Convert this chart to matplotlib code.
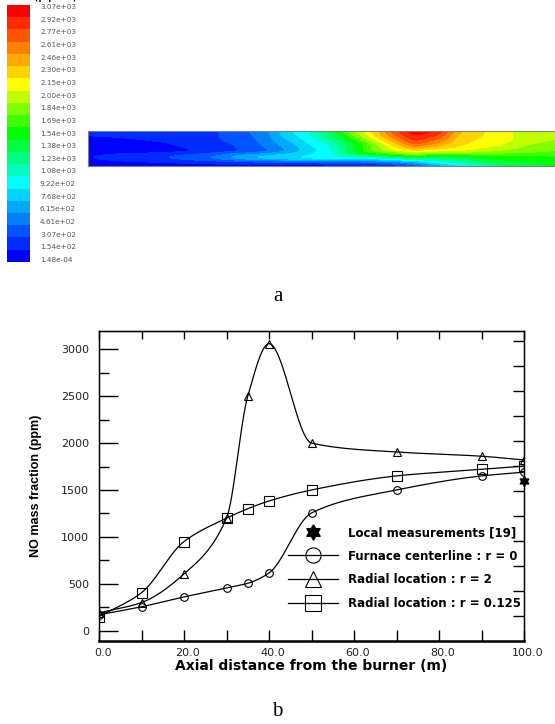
import colorsys
import numpy as np
import matplotlib
matplotlib.use("Agg")
import matplotlib.pyplot as plt
from matplotlib.colors import ListedColormap
from matplotlib.lines import Line2D
from matplotlib.transforms import ScaledTranslation

W, H = 555, 724

# ---------------- (a) NO contour map ----------------
# colour scale, as printed (top to bottom)
level_labels = ["3.07e+03", "2.92e+03", "2.77e+03", "2.61e+03", "2.46e+03",
                "2.30e+03", "2.15e+03", "2.00e+03", "1.84e+03", "1.69e+03",
                "1.54e+03", "1.38e+03", "1.23e+03", "1.08e+03", "9.22e+02",
                "7.68e+02", "6.15e+02", "4.61e+02", "3.07e+02", "1.54e+02",
                "1.48e-04"]

# NO field (ppm) read from the map: columns along the furnace (% of length),
# rows across it (0 = bottom edge, 1 = top edge)
field_x = [0, 8, 16, 22, 27, 32, 37, 42, 47, 52, 57, 62, 66, 70, 74, 80, 88, 94, 100]
field_r = [0.0, 0.1, 0.25, 0.45, 0.6, 0.8, 1.0]
no_r000 = [0, 0, 0, 0, 0, 0, 0, 0, 0, 0, 46, 77, 154, 307, 537, 844, 1228, 1382, 1458]
no_r010 = [15, 46, 77, 107, 138, 169, 200, 230, 261, 292, 322, 368, 461, 614, 844, 1075, 1382, 1458, 1535]
no_r025 = [61, 154, 215, 307, 399, 583, 706, 798, 860, 921, 998, 1075, 1228, 1382, 1305, 1382, 1535, 1535, 1612]
no_r045 = [0, 8, 31, 77, 154, 230, 338, 537, 768, 998, 1458, 1842, 2072, 2226, 2149, 2072, 1919, 1842, 1765]
no_r060 = [15, 23, 54, 123, 184, 246, 384, 583, 814, 1044, 1458, 1919, 2303, 2610, 2456, 2226, 2072, 1919, 1842]
no_r080 = [46, 77, 123, 169, 215, 292, 430, 691, 921, 1228, 1689, 2226, 2610, 2917, 2763, 2303, 2149, 1996, 1919]
no_r100 = [184, 184, 200, 215, 223, 338, 461, 768, 998, 1382, 1919, 2379, 2840, 3070, 2993, 2379, 2149, 1996, 1919]

# ---------------- (b) NO along the furnace ----------------
x_axial = [0, 10, 20, 30, 35, 40, 50, 70, 90, 100]
no_centre = [170, 255, 360, 455, 505, 615, 1255, 1500, 1650, 1690]
no_r2 = [190, 300, 605, 1200, 2500, 3060, 2000, 1905, 1860, 1820]
no_r0125 = [150, 405, 950, 1200, 1300, 1383, 1500, 1650, 1720, 1755]
meas_x = [100]
meas_no = [1595]
legend_labels = ["Local measurements [19]", "Furnace centerline : r = 0",
                 "Radial location : r = 2", "Radial location : r = 0.125"]


def pchip(x, y, xs):
    x = np.asarray(x, float)
    y = np.asarray(y, float)
    h = np.diff(x)
    d = np.diff(y) / h
    m = np.zeros_like(y)
    m[0], m[-1] = d[0], d[-1]
    for k in range(1, len(x) - 1):
        if d[k - 1] * d[k] > 0:
            w1, w2 = 2 * h[k] + h[k - 1], h[k] + 2 * h[k - 1]
            m[k] = (w1 + w2) / (w1 / d[k - 1] + w2 / d[k])
    i = np.clip(np.searchsorted(x, xs) - 1, 0, len(x) - 2)
    t = (xs - x[i]) / h[i]
    h00 = 2 * t**3 - 3 * t**2 + 1
    h10 = t**3 - 2 * t**2 + t
    h01 = -2 * t**3 + 3 * t**2
    h11 = t**3 - t**2
    return h00 * y[i] + h10 * h[i] * m[i] + h01 * y[i + 1] + h11 * h[i] * m[i + 1]


def px_box(left, top, right, bottom):
    return [left / W, 1 - bottom / H, (right - left) / W, (bottom - top) / H]


fig = plt.figure(figsize=(W / 100, H / 100), dpi=100)

# fluent-like rainbow: blue -> cyan -> green -> yellow -> red
n_lev = len(level_labels)
hue = np.interp(np.arange(n_lev), [0, 6, 10, 14, 20], [240, 180, 120, 60, 0])
box_colors = [colorsys.hsv_to_rgb(hh / 360, 1, 1) for hh in hue]

values = np.array([float(s) for s in level_labels][::-1])
bounds = np.concatenate([[-1000], (values[1:] + values[:-1]) / 2, [values[-1] + 500]])

ax_cb = fig.add_axes(px_box(7, 5, 30, 262))
ax_cb.imshow(np.arange(n_lev)[::-1, None], cmap=ListedColormap(box_colors),
             aspect="auto", interpolation="nearest", vmin=0, vmax=n_lev - 1)
ax_cb.axis("off")
for lab, ypx in zip(level_labels, np.linspace(7, 260, n_lev)):
    fig.text(40 / W, 1 - ypx / H, lab, fontsize=5.2, color="#555555",
             va="center", ha="left", family="DejaVu Sans")

# smooth the read-off grid before contouring (monotone cubic both ways)
field = np.array([no_r000, no_r010, no_r025, no_r045, no_r060, no_r080, no_r100])
fine_x = np.linspace(0, 100, 400)
fine_r = np.linspace(0, 1, 80)
rows = np.array([pchip(field_x, row, fine_x) for row in field])
smooth = np.array([pchip(field_r, rows[:, j], fine_r) for j in range(len(fine_x))]).T

ax_a = fig.add_axes(px_box(88, 131, 556, 166))
ax_a.contourf(fine_x, fine_r, smooth, levels=bounds, colors=box_colors)
ax_a.set_xlim(0, 100)
ax_a.set_ylim(0, 1)
ax_a.set_xticks([])
ax_a.set_yticks([])
for s in ax_a.spines.values():
    s.set_color("#808080")
    s.set_linewidth(0.8)
ax_a.spines["right"].set_visible(False)

fig.text(33 / W, 1 + 0.5 / H, "(ppm)", fontsize=11, va="baseline", ha="left")
fig.text(278 / W, 1 - 297 / H, "a", fontsize=15, family="Liberation Serif",
         ha="center", va="center")
fig.text(277 / W, 1 - 711 / H, "b", fontsize=15, family="Liberation Serif",
         ha="center", va="center")

# ---------------- plot (b) ----------------
ax = fig.add_axes(px_box(99, 331, 524, 641))
xs = np.linspace(0, 100, 600)
mk = dict(mfc="none", mec="black", mew=0.8, ls="none", color="black")
ax.plot(xs, pchip(x_axial, no_centre, xs), color="black", lw=0.9)
ax.plot(xs, pchip(x_axial, no_r2, xs), color="black", lw=0.9)
ax.plot(xs, pchip(x_axial, no_r0125, xs), color="black", lw=0.9)
ax.plot(x_axial, no_centre, marker="o", ms=5.5, **mk)
ax.plot(x_axial, no_r2, marker="^", ms=6, **mk)
ax.plot(x_axial, no_r0125, marker="s", ms=6.5, **mk)

ang = np.deg2rad(90 + 30 * np.arange(12))
rad = np.where(np.arange(12) % 2 == 0, 1.0, 0.577)
star = list(zip(rad * np.cos(ang), rad * np.sin(ang)))
star.append(star[0])
ax.plot(meas_x, meas_no, ls="none", marker=star, ms=7, color="black",
        clip_on=False, zorder=5)

ax.set_xlim(0, 100)
ax.set_ylim(-110, 3195)
ax.set_xticks(np.arange(0, 101, 20))
ax.set_xticklabels([f"{v:.1f}" for v in np.arange(0, 101, 20)])
ax.set_xticks(np.arange(0, 101, 10), minor=True)
ax.set_yticks(np.arange(0, 3001, 500))
ax.set_yticks(np.arange(250, 3001, 500), minor=True)
ax.tick_params(axis="y", which="major", direction="in", length=14, width=1,
               labelsize=8, pad=7, labelcolor="#222222")
ax.tick_params(axis="y", which="minor", direction="in", length=7, width=1)
ax.tick_params(axis="x", which="both", direction="in", length=8, width=1,
               labelsize=8, pad=5, labelcolor="#222222")
for lab in ax.get_xticklabels():
    lab.set_transform(lab.get_transform() + ScaledTranslation(4 / 100, 0, fig.dpi_scale_trans))
for s in ax.spines.values():
    s.set_linewidth(1.0)
ax.spines["bottom"].set_linewidth(1.8)

top = ax.secondary_xaxis("top")
top.set_xticks(np.arange(0, 101, 10))
top.tick_params(direction="in", length=6, width=1, labeltop=False)

right = ax.twinx()
right.set_ylim(0, 12.4)
right.set_yticks(np.arange(1, 13))
right.tick_params(direction="in", length=8, width=1, labelright=False)

ax.set_xlabel("Axial distance from the burner (m)", fontsize=10,
              fontweight="bold", family="DejaVu Sans", va="top")
ax.xaxis.set_label_coords(0.5, (641 - 659) / 310)
ax.set_ylabel("NO mass fraction (ppm)", fontsize=9, fontweight="bold",
              family="Liberation Sans")
ax.yaxis.set_label_coords((42 - 99) / 425, 0.5)

handles = [
    Line2D([], [], ls="none", marker=star, ms=11, color="black"),
    Line2D([], [], color="black", lw=0.9, marker="o", ms=11, mfc="none", mew=0.8),
    Line2D([], [], color="black", lw=0.9, marker="^", ms=11, mfc="none", mew=0.8),
    Line2D([], [], color="black", lw=0.9, marker="s", ms=11, mfc="none", mew=0.8),
]
ax.legend(handles, legend_labels, loc="upper left",
          bbox_to_anchor=((288 - 99) / 425, (641 - 526) / 310),
          frameon=False, borderpad=0, borderaxespad=0, handlelength=4.2,
          handletextpad=0.9, labelspacing=0.9,
          prop=dict(family="DejaVu Sans", weight="bold", size=8.5))

fig.savefig("out.png", dpi=100)
